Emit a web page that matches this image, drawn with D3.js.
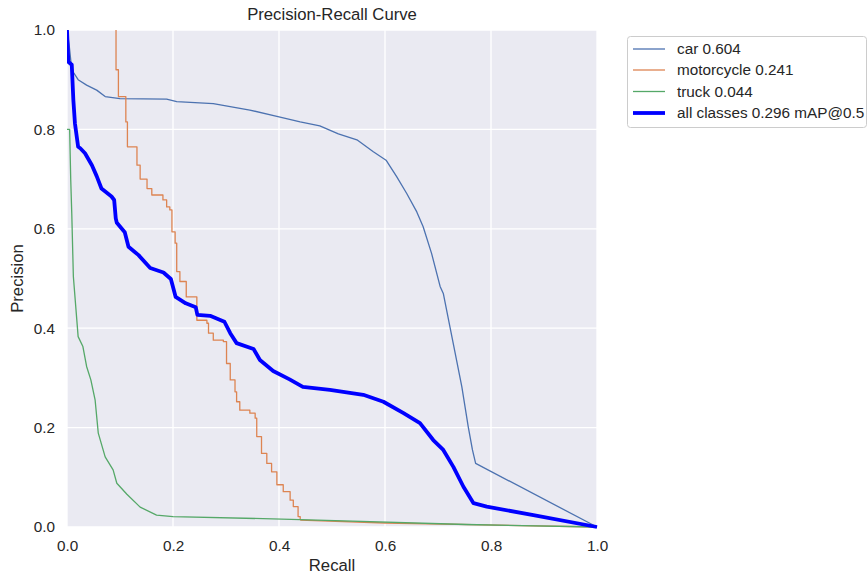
<!DOCTYPE html>
<html>
<head>
<meta charset="utf-8">
<script src="https://cdn.jsdelivr.net/npm/d3@7"></script>
<style>
body{margin:0;background:#fff;}
text{font-family:"Liberation Sans",Arial,sans-serif;fill:#262626;}
</style>
</head>
<body>
<svg id="chart" width="868" height="574"></svg>
<script>
// recall / precision pairs
var carPts = [[0,1.0],[0.004,0.97],[0.008,0.93],[0.012,0.915],[0.021,0.90],[0.037,0.889],[0.056,0.879],[0.072,0.866],[0.1,0.862],[0.188,0.861],[0.207,0.856],[0.276,0.852],[0.345,0.839],[0.396,0.826],[0.44,0.815],[0.477,0.807],[0.512,0.791],[0.547,0.779],[0.578,0.755],[0.602,0.738],[0.622,0.705],[0.641,0.671],[0.660,0.634],[0.672,0.604],[0.688,0.55],[0.704,0.484],[0.710,0.470],[0.723,0.400],[0.735,0.336],[0.745,0.282],[0.757,0.202],[0.765,0.155],[0.771,0.128],[1.0,0.0]];
var motoPts = [[0.0925,1.0],[0.0925,0.92],[0.097,0.92],[0.097,0.866],[0.111,0.866],[0.111,0.815],[0.114,0.765],[0.129,0.765],[0.132,0.728],[0.138,0.70],[0.151,0.681],[0.160,0.668],[0.180,0.668],[0.181,0.658],[0.188,0.644],[0.194,0.638],[0.198,0.594],[0.204,0.571],[0.207,0.514],[0.213,0.51],[0.213,0.494],[0.225,0.494],[0.225,0.463],[0.242,0.463],[0.245,0.416],[0.264,0.41],[0.267,0.39],[0.276,0.376],[0.295,0.373],[0.301,0.329],[0.308,0.296],[0.317,0.272],[0.32,0.252],[0.326,0.235],[0.345,0.229],[0.355,0.219],[0.358,0.182],[0.367,0.148],[0.377,0.128],[0.386,0.111],[0.396,0.085],[0.408,0.071],[0.421,0.054],[0.427,0.041],[0.436,0.021],[0.44,0.014],[0.6,0.008],[1.0,0.0]];
var truckPts = [[0,0.80],[0.005,0.80],[0.007,0.70],[0.009,0.631],[0.012,0.504],[0.021,0.383],[0.030,0.363],[0.037,0.323],[0.045,0.296],[0.053,0.256],[0.059,0.189],[0.072,0.141],[0.087,0.115],[0.094,0.088],[0.113,0.066],[0.138,0.04],[0.169,0.024],[0.2,0.021],[0.44,0.015],[0.754,0.005],[1.0,0.0]];
var allPts = [[0,1.0],[0.0025,0.936],[0.009,0.93],[0.012,0.859],[0.015,0.812],[0.021,0.765],[0.025,0.762],[0.034,0.752],[0.047,0.728],[0.056,0.706],[0.065,0.681],[0.084,0.665],[0.089,0.658],[0.092,0.621],[0.094,0.612],[0.109,0.593],[0.116,0.564],[0.135,0.547],[0.157,0.521],[0.182,0.512],[0.196,0.499],[0.205,0.463],[0.224,0.45],[0.243,0.442],[0.246,0.427],[0.27,0.425],[0.297,0.413],[0.308,0.39],[0.32,0.37],[0.352,0.358],[0.364,0.336],[0.389,0.314],[0.42,0.297],[0.445,0.282],[0.496,0.276],[0.559,0.266],[0.597,0.252],[0.635,0.229],[0.666,0.209],[0.691,0.175],[0.71,0.155],[0.729,0.121],[0.748,0.081],[0.767,0.048],[0.792,0.041],[0.88,0.024],[1.0,0.0]];

var seriesNames = ["car 0.604","motorcycle 0.241","truck 0.044","all classes 0.296 mAP@0.5"];
var seriesData = [carPts, motoPts, truckPts, allPts];
var seriesColors = ["#4C72B0","#DD8452","#55A868","#0000FF"];
var seriesWidths = [1.3,1.3,1.3,3.8];
var motoStairEnd = 0.44; // motorcycle is a staircase up to this recall, then a flat tail
var tickValues = [0,0.2,0.4,0.6,0.8,1.0];

var svg = d3.select("#chart");
var pLeft = 67, pRight = 597, pTop = 30, pBottom = 527;

var x = d3.scaleLinear().domain([0,1]).range([pLeft,pRight]);
var y = d3.scaleLinear().domain([0,1]).range([pBottom,pTop]);

svg.append("rect").attr("x",pLeft).attr("y",pTop)
    .attr("width",pRight-pLeft).attr("height",pBottom-pTop)
    .attr("fill","#EAEAF2");

// grid
svg.append("g").selectAll("line").data(tickValues).enter().append("line")
    .attr("x1",d=>x(d)).attr("x2",d=>x(d)).attr("y1",pTop).attr("y2",pBottom)
    .attr("stroke","#fff").attr("stroke-width",1.3);
svg.append("g").selectAll("line").data(tickValues).enter().append("line")
    .attr("y1",d=>y(d)).attr("y2",d=>y(d)).attr("x1",pLeft).attr("x2",pRight)
    .attr("stroke","#fff").attr("stroke-width",1.3);

var xAxis = svg.append("g").attr("transform","translate(0,"+pBottom+")")
    .call(d3.axisBottom(x).tickValues(tickValues).tickFormat(d3.format(".1f")).tickSize(0).tickPadding(13));
var yAxis = svg.append("g").attr("transform","translate("+pLeft+",0)")
    .call(d3.axisLeft(y).tickValues(tickValues).tickFormat(d3.format(".1f")).tickSize(0).tickPadding(12));
[xAxis,yAxis].forEach(function(a){
    a.select(".domain").remove();
    a.selectAll("text").style("font-size","15.3px").attr("fill","#262626")
        .style("font-family","'Liberation Sans',Arial,sans-serif");
});

var clipID = "plotClip";
svg.append("clipPath").attr("id",clipID).append("rect")
    .attr("x",pLeft).attr("y",pTop-2).attr("width",pRight-pLeft+2).attr("height",pBottom-pTop+4);

var linear = d3.line().x(d=>x(d[0])).y(d=>y(d[1]));
var stepped = d3.line().x(d=>x(d[0])).y(d=>y(d[1])).curve(d3.curveStepAfter);

var DrawSeries = function(d,i){
    svg.append("path").attr("d",d)
        .attr("fill","none")
        .attr("stroke",seriesColors[i])
        .attr("stroke-width",seriesWidths[i])
        .attr("stroke-linejoin","round")
        .attr("clip-path","url(#"+clipID+")");
};

DrawSeries(linear(carPts),0);
DrawSeries(stepped(motoPts.filter(p=>p[0]<=motoStairEnd)),1);
DrawSeries(linear(motoPts.filter(p=>p[0]>=motoStairEnd)),1);
DrawSeries(linear(truckPts),2);
DrawSeries(linear(allPts),3);

svg.append("text").attr("x",(pLeft+pRight)/2).attr("y",20)
    .attr("text-anchor","middle").style("font-size","16.7px").text("Precision-Recall Curve");
svg.append("text").attr("x",(pLeft+pRight)/2).attr("y",571)
    .attr("text-anchor","middle").style("font-size","16.7px").text("Recall");
svg.append("text").attr("transform","translate(23,"+((pTop+pBottom)/2)+") rotate(-90)")
    .attr("text-anchor","middle").style("font-size","16.7px").text("Precision");

// legend
var lg = svg.append("g");
lg.append("rect").attr("x",627.5).attr("y",36.5).attr("width",239).attr("height",91)
    .attr("rx",3).attr("fill","#fff").attr("fill-opacity",0.8)
    .attr("stroke","#CCCCCC").attr("stroke-width",1);
var rowY = [49,70,91.5,113];
seriesNames.forEach(function(n,i){
    lg.append("line").attr("x1",633).attr("x2",665).attr("y1",rowY[i]).attr("y2",rowY[i])
        .attr("stroke",seriesColors[i]).attr("stroke-width",seriesWidths[i]);
    lg.append("text").attr("x",677).attr("y",rowY[i]).attr("dy","0.35em")
        .style("font-size","15.3px").text(n);
});
</script>
</body>
</html>
